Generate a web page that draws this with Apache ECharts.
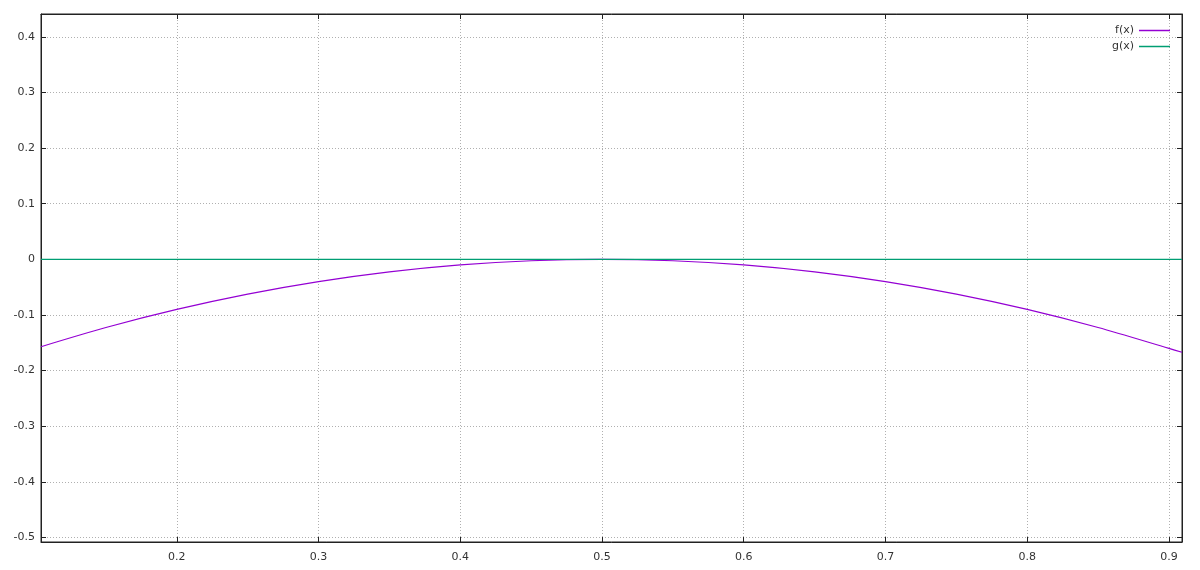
<!DOCTYPE html>
<html>
<head>
<meta charset="utf-8">
<script src="https://cdn.jsdelivr.net/npm/echarts@6/dist/echarts.min.js"></script>
<style>
  html, body { margin: 0; padding: 0; background: #fff; }
  #chart { width: 1200px; height: 570px; }
</style>
</head>
<body>
<div id="chart"></div>
<script>
// values
const xTicks = [0.2, 0.3, 0.4, 0.5, 0.6, 0.7, 0.8, 0.9]
const yTicks = [-0.5, -0.4, -0.3, -0.2, -0.1, 0, 0.1, 0.2, 0.3, 0.4]
const xRange = [0.1042, 0.9092]
const yRange = [-0.508, 0.441]

const fX = [0.1042, 0.15, 0.2, 0.25, 0.3, 0.35, 0.4, 0.45, 0.5, 0.55, 0.6, 0.65, 0.7, 0.75, 0.8, 0.85, 0.9, 0.9092]
const fY = [-0.157, -0.1225, -0.09, -0.0625, -0.04, -0.0225, -0.01, -0.0025, 0, -0.0025, -0.01, -0.0225, -0.04, -0.0625, -0.09, -0.1225, -0.16, -0.167]
const gX = [0.1042, 0.9092]
const gY = [0, 0]

const seriesNames = ['f(x)', 'g(x)']
const colorList = ['#9400d3', '#009e73']

const font = 'DejaVu Sans, Verdana, sans-serif'
const fmt = v => String(Math.round(v * 10) / 10)

const chart = echarts.init(document.getElementById('chart'))

// mirror axes (gnuplot style ticks on all four sides)
const baseAxis = (pos, range, ticks, main) => ({
    type: 'value',
    position: pos,
    min: range[0],
    max: range[1],
    axisLine: { show: true, onZero: false, lineStyle: { color: '#222', width: 1 } },
    axisTick: { show: true, inside: true, length: 5, customValues: ticks, lineStyle: { color: '#222' } },
    axisLabel: main ? {
        show: true,
        customValues: ticks,
        formatter: fmt,
        color: '#333',
        fontSize: 11,
        fontFamily: font,
        margin: pos === 'bottom' ? 10 : 6
    } : { show: false },
    splitLine: main ? {
        show: true,
        lineStyle: { color: '#b0b0b0', type: [1, 2], width: 1 }
    } : { show: false }
})

const option = {
    animation: false,
    backgroundColor: '#fff',
    color: colorList,
    grid: {
        left: 41,
        right: 18,
        top: 14,
        bottom: 28,
        show: true,
        borderColor: '#222',
        borderWidth: 1
    },
    legend: {
        orient: 'vertical',
        right: 25,
        top: 20,
        align: 'right',
        icon: 'rect',
        itemWidth: 31,
        itemHeight: 1.5,
        itemGap: 5,
        itemStyle: { borderWidth: 0 },
        data: seriesNames,
        textStyle: { fontSize: 11, fontFamily: font, color: '#333', padding: [0, 0, 0, 0] }
    },
    xAxis: [
        baseAxis('bottom', xRange, xTicks, true),
        baseAxis('top', xRange, xTicks, false)
    ],
    yAxis: [
        baseAxis('left', yRange, yTicks, true),
        baseAxis('right', yRange, yTicks, false)
    ],
    series: [
        {
            name: seriesNames[0],
            type: 'line',
            showSymbol: false,
            symbol: 'none',
            smooth: 0.3,
            data: fX.map((x, i) => [x, fY[i]]),
            lineStyle: { width: 1.2, color: colorList[0] }
        },
        {
            name: seriesNames[1],
            type: 'line',
            showSymbol: false,
            symbol: 'none',
            data: gX.map((x, i) => [x, gY[i]]),
            lineStyle: { width: 1.2, color: colorList[1] }
        }
    ]
}

chart.setOption(option)
</script>
</body>
</html>
